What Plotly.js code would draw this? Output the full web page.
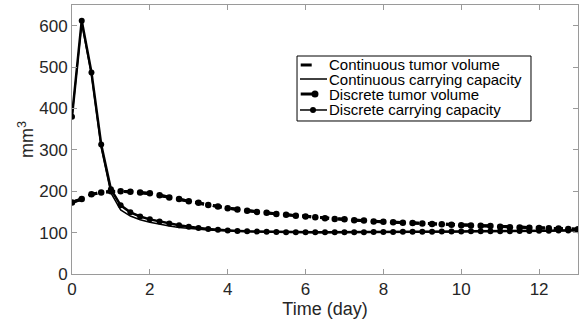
<!DOCTYPE html>
<html>
<head>
<meta charset="utf-8">
<script src="https://cdn.plot.ly/plotly-3.0.1.min.js"></script>
<style>html,body{margin:0;padding:0;background:#fff;}#chart{width:585px;height:320px;}</style>
</head>
<body>
<div id="chart"></div>
<script>
// Time (day)
var time = [0, 0.25, 0.5, 0.75, 1, 1.25, 1.5, 1.75, 2, 2.25, 2.5, 2.75, 3, 3.25, 3.5, 3.75,
  4, 4.25, 4.5, 4.75, 5, 5.25, 5.5, 5.75, 6, 6.25, 6.5, 6.75, 7, 7.25, 7.5, 7.75,
  8, 8.25, 8.5, 8.75, 9, 9.25, 9.5, 9.75, 10, 10.25, 10.5, 10.75, 11, 11.25, 11.5, 11.75,
  12, 12.25, 12.5, 12.75, 13];

// Continuous tumor volume (mm^3)
var contTumor = [173, 181, 192, 197, 199, 200, 199, 197, 194, 190, 185, 180, 176, 171, 167, 163,
  159, 156, 153, 150, 147, 145, 143, 141, 139, 137, 135, 133, 131, 130, 128.5, 127,
  126, 125, 124, 123, 122, 121, 120, 119, 118, 117, 116.5, 115.5, 114.5, 113.5, 113, 112,
  111, 110.5, 110, 109, 108];

// Continuous carrying capacity (mm^3)
var contCap = [380, 606, 482, 306, 196, 155, 140, 131, 125, 120, 116, 112.5, 110, 108, 106.5, 105,
  104, 103, 102.5, 102, 101.5, 101, 100.5, 100.5, 100.5, 100.5, 100.5, 100.5, 100.5, 100.5, 100.5, 101,
  101, 101, 101.5, 101.5, 101.5, 102, 102, 102, 102.5, 102.5, 102.5, 103, 103, 103.5, 103.5, 104,
  104, 104.5, 104.5, 105, 105];

// Discrete tumor volume (mm^3)
var discTumor = [173, 181, 193, 197, 200, 200, 199, 197, 195, 190, 185, 181, 176, 172, 167, 163,
  159, 156, 153, 150, 148, 145, 143, 141, 139, 137, 135, 133, 132, 130, 129, 127,
  126, 125, 124, 123, 122, 121, 120, 119, 118, 117, 116.5, 116, 114, 113, 112.5, 112,
  111, 110.5, 110, 109, 108];

// Discrete carrying capacity (mm^3)
var discCap = [380, 612, 487, 313, 205, 166, 149, 139, 132, 127, 122, 118, 114, 111, 109, 107,
  105, 104, 103, 102.5, 102, 101.5, 101, 101, 101, 101, 101, 101, 101, 101, 101, 101.5,
  101.5, 101.5, 102, 102, 102, 102, 102.5, 102.5, 102.5, 103, 103, 103, 103.5, 103.5, 104, 104,
  104.5, 104.5, 105, 105, 105.5];

var legendLabels = ['Continuous tumor volume', 'Continuous carrying capacity',
  'Discrete tumor volume', 'Discrete carrying capacity'];

var xTickVals = [0, 2, 4, 6, 8, 10, 12];
var yTickVals = [0, 100, 200, 300, 400, 500, 600];

var FONT = 'Liberation Sans, Arial, Helvetica, sans-serif';
var TXT = '#262626';
var AX = '#9a9a9a';

var traces = [
  {x: time, y: contTumor, name: legendLabels[0], mode: 'lines', showlegend: false,
   line: {color: '#000', width: 3, dash: 'dash'}},
  {x: time, y: contCap, name: legendLabels[1], mode: 'lines', showlegend: false,
   line: {color: '#000', width: 1.5}},
  {x: time, y: discTumor, name: legendLabels[2], mode: 'lines+markers', showlegend: false,
   line: {color: '#000', width: 3, dash: 'dash'}, marker: {color: '#000', size: 6.5}},
  {x: time, y: discCap, name: legendLabels[3], mode: 'lines+markers', showlegend: false,
   line: {color: '#000', width: 2.5}, marker: {color: '#000', size: 6}}
];

// custom legend (box, symbols, text) in plot-area (paper) coordinates
var L = {x0: 0.4447, x1: 0.9071, y0: 0.5688, y1: 0.8104};
var rows = [0.7770, 0.7249, 0.6691, 0.6097];
var shapes = [
  {type: 'rect', xref: 'paper', yref: 'paper', x0: L.x0, x1: L.x1, y0: L.y0, y1: L.y1,
   line: {color: '#000', width: 1}, fillcolor: '#fff', layer: 'above'},
  {type: 'line', xref: 'paper', yref: 'paper', x0: 0.452, x1: 0.4737, y0: rows[0], y1: rows[0],
   line: {color: '#000', width: 3}},
  {type: 'line', xref: 'paper', yref: 'paper', x0: 0.4506, x1: 0.504, y0: rows[1], y1: rows[1],
   line: {color: '#000', width: 1.5}},
  {type: 'line', xref: 'paper', yref: 'paper', x0: 0.452, x1: 0.4763, y0: rows[2], y1: rows[2],
   line: {color: '#000', width: 3}},
  {type: 'line', xref: 'paper', yref: 'paper', x0: 0.4506, x1: 0.504, y0: rows[3], y1: rows[3],
   line: {color: '#000', width: 1.5}}
];
function dot(px, py, r) {
  return {type: 'circle', xref: 'paper', yref: 'paper', xsizemode: 'pixel', ysizemode: 'pixel',
    xanchor: px, yanchor: py, x0: -r, x1: r, y0: -r, y1: r,
    fillcolor: '#000', line: {color: '#000', width: 0}};
}
shapes.push(dot(0.4802, rows[2], 3.5));
shapes.push(dot(0.4763, rows[3], 3));

var annotations = legendLabels.map(function (txt, i) {
  return {text: txt, xref: 'paper', yref: 'paper', x: 0.504, y: rows[i],
    xanchor: 'left', yanchor: 'middle', showarrow: false,
    font: {family: FONT, size: 15, color: '#000'}};
});

var axisCommon = {
  showgrid: false, zeroline: false, showline: true, linecolor: AX, linewidth: 1,
  mirror: 'ticks', ticks: 'inside', ticklen: 5, tickcolor: AX, tickwidth: 1,
  tickfont: {family: FONT, size: 17, color: TXT}
};

var layout = {
  width: 585, height: 320,
  margin: {l: 72, r: 7, t: 5, b: 46, pad: 0},
  paper_bgcolor: '#fff', plot_bgcolor: '#fff',
  showlegend: false,
  xaxis: Object.assign({}, axisCommon, {
    range: [0, 13], tickmode: 'array', tickvals: xTickVals,
    title: {text: 'Time (day)', font: {family: FONT, size: 18, color: TXT}, standoff: 2}
  }),
  yaxis: Object.assign({}, axisCommon, {
    range: [0, 650], tickmode: 'array', tickvals: yTickVals,
    title: {text: 'mm<sup>3</sup>', font: {family: FONT, size: 18, color: TXT}, standoff: 0}
  }),
  shapes: shapes,
  annotations: annotations
};

Plotly.newPlot('chart', traces, layout, {displayModeBar: false, staticPlot: true});
</script>
</body>
</html>
